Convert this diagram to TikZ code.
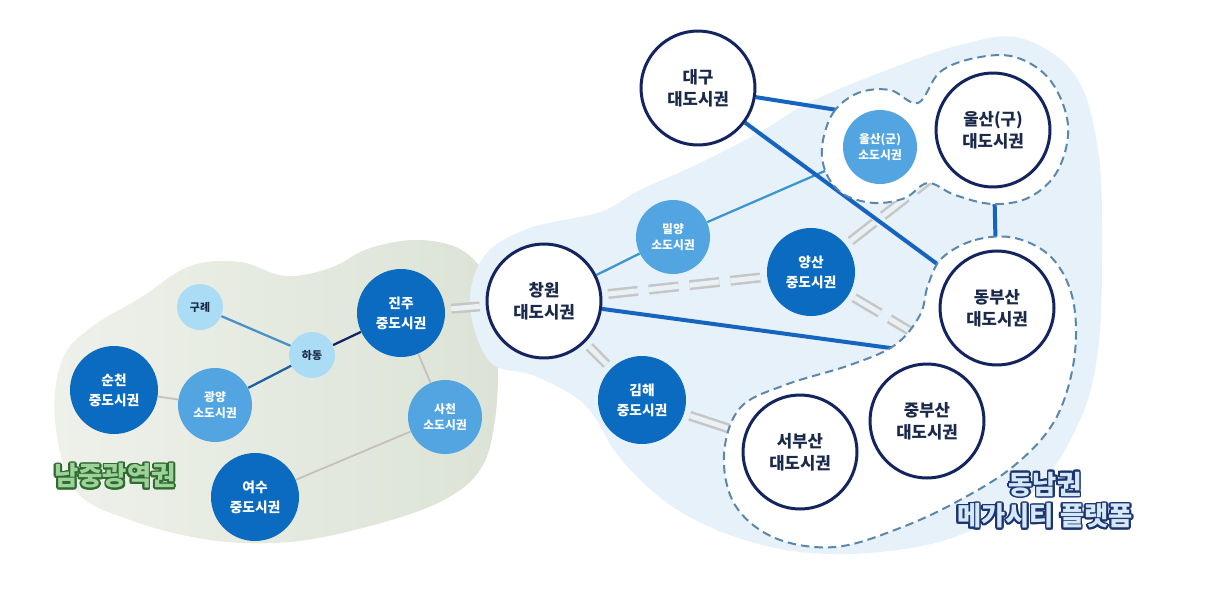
\documentclass[tikz,border=0pt]{standalone}
\usepackage{fontspec}
\setmainfont{Noto Sans CJK KR}
\usepackage{contour}
\usepackage{tikz}
\usetikzlibrary{backgrounds}
\definecolor{navyline}{HTML}{13245E}
\definecolor{citytext}{HTML}{1B2A4A}
\definecolor{midblue}{HTML}{0B6BC1}
\definecolor{smallblue}{HTML}{52A5E0}
\definecolor{townblue}{HTML}{AADCF6}
\definecolor{majorblue}{HTML}{1565C0}
\definecolor{lineblue}{HTML}{3A95D0}
\definecolor{linesky}{HTML}{4A90C8}
\definecolor{linemid}{HTML}{1D5FA0}
\definecolor{greyline}{HTML}{C4C0BA}
\definecolor{railgrey}{HTML}{C6C6C6}
\definecolor{railmid}{HTML}{EAF1F5}
\definecolor{greenlight}{HTML}{EEF1EA}
\definecolor{greendark}{HTML}{DCE3D6}
\definecolor{bluezone}{HTML}{E7F1FA}
\definecolor{dashblue}{HTML}{5B87AD}
\definecolor{greentitle}{HTML}{2F6B2F}
\definecolor{greenfill}{HTML}{9ED29A}
\definecolor{navytitle}{HTML}{1C3370}
\definecolor{bluefill}{HTML}{D4E8F8}
\contourlength{1pt}

\begin{document}
\begin{tikzpicture}[
    x=0.02cm, y=-0.02cm,
    bigcity/.style={circle, draw=navyline, line width=0.06cm, fill=white, minimum size=2.28cm, inner sep=0pt, align=center, text=citytext, font=\bfseries\fontsize{9.5}{12.5}\selectfont},
    midcity/.style={circle, fill=midblue, minimum size=1.76cm, inner sep=0pt, align=center, text=white, font=\bfseries\fontsize{7.8}{11.3}\selectfont},
    smallcity/.style={circle, fill=smallblue, minimum size=1.48cm, inner sep=0pt, align=center, text=white, font=\bfseries\fontsize{6.7}{8.7}\selectfont},
    town/.style={circle, fill=townblue, minimum size=0.92cm, inner sep=0pt, text=citytext, font=\bfseries\fontsize{6.2}{8}\selectfont},
    link/.style={draw=#1, line width=0.045cm},
    thinlink/.style={draw=greyline, line width=0.035cm},
    major/.style={draw=majorblue, line width=0.08cm},
    rail/.style={draw=railgrey, double=railmid, line width=0.05cm, double distance=0.1cm, shorten <=0.12cm, shorten >=0.12cm},
    raildash/.style={rail, dash pattern=on 0.6cm off 0.22cm},
    zone/.style={fill=white, draw=dashblue, line width=0.04cm, dash pattern=on 0.17cm off 0.1cm},
    title/.style={align=center, font=\bfseries\fontsize{15}{18}\selectfont},
]
\useasboundingbox (0,0) rectangle (1223,609);

% ─── Metropolitan cities ───
\node[bigcity] (daegu) at (698,88) {대구\\대도시권};
\node[bigcity] (changwon) at (544,301) {창원\\대도시권};
\node[bigcity] (ulsangu) at (993,130) {울산(구)\\대도시권};
\node[bigcity] (dongbusan) at (997,308) {동부산\\대도시권};
\node[bigcity] (jungbusan) at (927,421) {중부산\\대도시권};
\node[bigcity] (seobusan) at (800,452) {서부산\\대도시권};

% ─── Mid-size cities ───
\node[midcity] (jinju) at (401,313) {진주\\중도시권};
\node[midcity] (suncheon) at (114,390) {순천\\중도시권};
\node[midcity] (yeosu) at (255,497) {여수\\중도시권};
\node[midcity] (gimhae) at (642,400) {김해\\중도시권};
\node[midcity] (yangsan) at (811,272) {양산\\중도시권};

% ─── Small cities ───
\node[smallcity] (gwangyang) at (215,405) {광양\\소도시권};
\node[smallcity] (sacheon) at (445,417) {사천\\소도시권};
\node[smallcity] (miryang) at (673,237) {밀양\\소도시권};
\node[smallcity] (ulsangun) at (880,147) {울산(군)\\소도시권};

% ─── Towns ───
\node[town] (gurye) at (200,307) {구례};
\node[town] (hadong) at (312,355) {하동};

% ─── Region titles ───
\node[title, text=greenfill] (namjung) at (115,477) {\contour{greentitle}{남중광역권}};
\node[title, text=bluefill] (dongnam) at (1045,501) {\contour{navytitle}{동남권}\\\contour{navytitle}{메가시티 플랫폼}};

% ─── Zone edge points ───
\coordinate (ulsanW) at (850,112);
\coordinate (busanW) at (905,350);
\coordinate (busanNW) at (920,337);

\begin{scope}[on background layer]
% regions
\path[left color=greenlight, right color=greendark]
  plot[smooth cycle, tension=0.6] coordinates {(55,420) (62,360) (90,328) (140,298) (190,266) (240,262) (285,276) (330,268) (370,248) (420,240) (465,252) (492,290) (498,350) (495,420) (480,470) (440,502) (370,526) (290,542) (210,540) (130,520) (75,490)};
\path[fill=bluezone]
  plot[smooth cycle, tension=0.6] coordinates {(470,305) (485,255) (530,228) (600,212) (640,190) (700,163) (760,132) (810,102) (887,70) (960,45) (1020,38) (1075,75) (1098,150) (1102,250) (1098,350) (1080,420) (1035,490) (960,535) (880,552) (800,552) (730,535) (670,505) (620,458) (585,405) (535,376) (490,362)};

% connectors
\draw[thinlink] (suncheon) -- (gwangyang);
\draw[thinlink] (jinju) -- (sacheon);
\draw[thinlink] (sacheon) -- (yeosu);
\draw[link=linesky] (gurye) -- (hadong);
\draw[link=linemid] (hadong) -- (gwangyang);
\draw[link=navyline] (hadong) -- (jinju);
\draw[rail] (jinju) -- (changwon);
\draw[link=lineblue] (changwon) -- (miryang);
\draw[link=lineblue] (miryang) -- (ulsangun);
\draw[raildash] (changwon) -- (yangsan);
\draw[raildash] (changwon) -- (gimhae);
\draw[rail] (gimhae) -- (seobusan);
\draw[raildash] (yangsan) -- (ulsangu);
\draw[raildash] (yangsan) -- (busanNW);
\draw[major] (daegu) -- (ulsanW);
\draw[major] (daegu) -- (dongbusan);
\draw[major] (changwon) -- (busanW);
\draw[major] (ulsangu) -- (dongbusan);

% dashed zones
\path[zone] plot[smooth cycle, tension=0.6] coordinates {(822,147) (833,113) (858,93) (890,90) (918,103) (940,72) (975,58) (1015,57) (1050,80) (1068,125) (1058,170) (1030,197) (993,204) (955,195) (928,183) (905,198) (875,203) (845,195) (827,175)};
\path[zone] plot[smooth cycle, tension=0.6] coordinates {(942,258) (975,240) (1015,238) (1052,258) (1073,300) (1074,360) (1055,420) (1015,465) (960,500) (900,528) (835,547) (775,538) (735,505) (724,455) (740,408) (785,385) (850,365) (895,345) (920,315) (928,285)};
\end{scope}

\end{tikzpicture}
\end{document}
